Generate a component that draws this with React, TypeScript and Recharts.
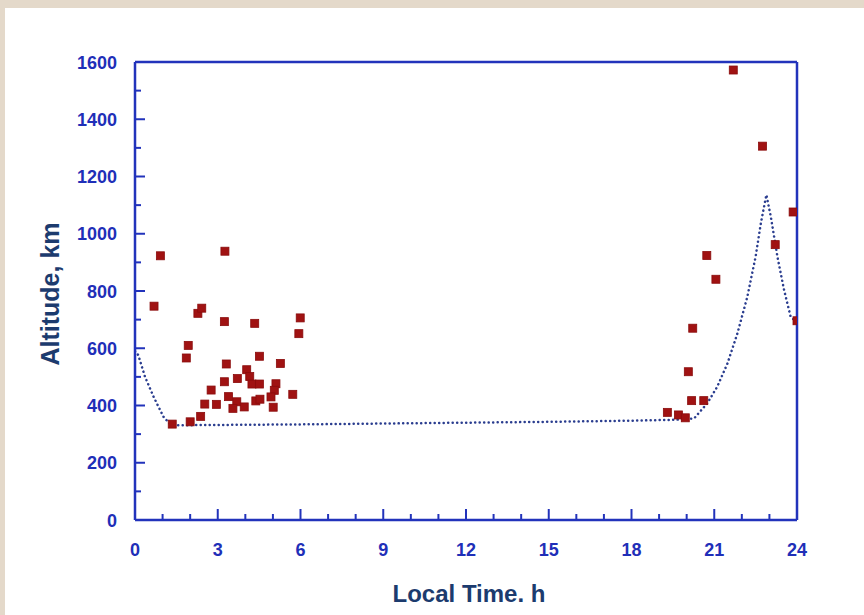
import { ComposedChart, Scatter, Line, XAxis, YAxis } from "recharts";

// observed altitudes (km) vs local time (h)
const nightX = [0.92, 3.26, 0.69, 2.28, 2.42, 3.24, 4.34, 5.99, 5.94, 1.93, 1.86, 4.51, 3.31, 5.27, 4.05, 3.71, 4.16, 3.24, 4.24, 4.51, 5.11, 5.05, 2.76, 3.39, 3.69, 4.93, 5.72, 4.38, 4.53, 2.53, 2.95, 3.55, 3.96, 5.01, 2.38, 1.35, 2.0];
const nightY = [923, 939, 747, 722, 740, 693, 687, 706, 651, 610, 566, 572, 545, 547, 525, 494, 501, 483, 475, 475, 476, 453, 454, 431, 413, 430, 439, 416, 422, 405, 404, 390, 395, 394, 362, 335, 343];
const eveningX = [21.69, 22.75, 23.86, 23.21, 20.73, 21.06, 20.22, 24.0, 20.06, 20.18, 20.62, 19.3, 19.7, 19.95];
const eveningY = [1572, 1306, 1076, 962, 924, 841, 670, 696, 518, 417, 417, 376, 367, 357];

// model curve
const curveX = [0, 0.12, 0.36, 0.67, 1.03, 1.27, 1.5, 3, 6, 9, 12, 15, 18, 19.5, 20, 20.27, 20.75, 21.11, 21.48, 21.84, 22.2, 22.5, 22.69, 22.89, 23.05, 23.29, 23.53, 23.77, 24];
const curveY = [590, 576, 501, 431, 361, 335, 331, 332, 334, 337, 340, 343, 347, 350, 352, 355, 408, 466, 547, 652, 780, 920, 1037, 1136, 1060, 920, 804, 710, 690];

const xTicks = [0, 1, 2, 3, 4, 5, 6, 7, 8, 9, 10, 11, 12, 13, 14, 15, 16, 17, 18, 19, 20, 21, 22, 23, 24];
const yTicks = [0, 100, 200, 300, 400, 500, 600, 700, 800, 900, 1000, 1100, 1200, 1300, 1400, 1500, 1600];

const points = [
  ...nightX.map((x, i) => ({ x, y: nightY[i] })),
  ...eveningX.map((x, i) => ({ x, y: eveningY[i] })),
];
const curve = curveX.map((x, i) => ({ x, y: curveY[i] }));

const AXIS = "#2233bb";
const LABEL = "#1f2fb8";
const TITLE = "#1c3b6e";
const FONT = "'Liberation Sans', Arial, sans-serif";

function BottomTick({ x, y, payload }: any) {
  const major = payload.value % 3 === 0;
  return (
    <g>
      <line x1={x} x2={x} y1={y} y2={y - (major ? 11 : 6)} stroke={AXIS} strokeWidth={2} />
      {major && (
        <text x={x} y={y + 36} textAnchor="middle" fill={LABEL} fontSize={18} fontWeight="bold" fontFamily={FONT}>
          {payload.value}
        </text>
      )}
    </g>
  );
}

function TopTick({ x, y, payload }: any) {
  const major = payload.value % 3 === 0;
  return <line x1={x} x2={x} y1={y} y2={y + (major ? 10 : 6)} stroke={AXIS} strokeWidth={2} />;
}

function LeftTick({ x, y, payload }: any) {
  const major = payload.value % 200 === 0;
  return (
    <g>
      <line x1={x} x2={x + (major ? 10 : 6)} y1={y} y2={y} stroke={AXIS} strokeWidth={2} />
      {major && (
        <text x={x - 18} y={y + 6.5} textAnchor="end" fill={LABEL} fontSize={18} fontWeight="bold" fontFamily={FONT}>
          {payload.value}
        </text>
      )}
    </g>
  );
}

function RightTick({ x, y, payload }: any) {
  const major = payload.value % 200 === 0;
  return <line x1={x} x2={x - (major ? 10 : 6)} y1={y} y2={y} stroke={AXIS} strokeWidth={2} />;
}

function Square({ cx, cy }: any) {
  return <rect x={cx - 4} y={cy - 4} width={8} height={8} fill="#a01212" stroke="#8a0c0c" strokeWidth={0.8} />;
}

export default function App() {
  return (
    <div style={{ position: "absolute", left: 0, top: 0, width: 864, height: 615, background: "#e4d9ca", overflow: "hidden" }}>
      <div style={{ position: "absolute", left: 5, top: 8, right: 0, bottom: 0, background: "#ffffff" }} />
      <div style={{ position: "absolute", left: 0, top: 0 }}>
        <ComposedChart width={864} height={615} margin={{ top: 61, right: 66, bottom: 65, left: 75 }}>
          <XAxis
            dataKey="x"
            type="number"
            domain={[0, 24]}
            ticks={xTicks}
            interval={0}
            allowDataOverflow
            axisLine={{ stroke: AXIS, strokeWidth: 2.5 }}
            tickLine={false}
            tickSize={0}
            tickMargin={0}
            tick={<BottomTick />}
            height={30}
          />
          <XAxis
            xAxisId="top"
            orientation="top"
            type="number"
            domain={[0, 24]}
            ticks={xTicks}
            interval={0}
            axisLine={{ stroke: AXIS, strokeWidth: 2.5 }}
            tickLine={false}
            tickSize={0}
            tickMargin={0}
            tick={<TopTick />}
            height={1}
          />
          <YAxis
            dataKey="y"
            type="number"
            domain={[0, 1600]}
            ticks={yTicks}
            interval={0}
            allowDataOverflow
            axisLine={{ stroke: AXIS, strokeWidth: 2.5 }}
            tickLine={false}
            tickSize={0}
            tickMargin={0}
            tick={<LeftTick />}
            width={60}
          />
          <YAxis
            yAxisId="right"
            orientation="right"
            type="number"
            domain={[0, 1600]}
            ticks={yTicks}
            interval={0}
            axisLine={{ stroke: AXIS, strokeWidth: 2.5 }}
            tickLine={false}
            tickSize={0}
            tickMargin={0}
            tick={<RightTick />}
            width={1}
          />
          <Line
            data={curve}
            dataKey="y"
            type="linear"
            stroke="#2a3d8f"
            strokeWidth={2.5}
            strokeDasharray="0.1 4.4"
            strokeLinecap="round"
            dot={false}
            activeDot={false}
            isAnimationActive={false}
          />
          <Scatter data={points} dataKey="y" shape={<Square />} isAnimationActive={false} />
        </ComposedChart>
      </div>
      <div
        style={{
          position: "absolute",
          left: 469,
          top: 581,
          transform: "translateX(-50%)",
          whiteSpace: "nowrap",
          fontFamily: FONT,
          fontWeight: "bold",
          fontSize: 24,
          lineHeight: "26px",
          color: TITLE,
        }}
      >
        Local Time. h
      </div>
      <div
        style={{
          position: "absolute",
          left: 50,
          top: 294,
          transform: "translate(-50%, -50%) rotate(-90deg)",
          whiteSpace: "nowrap",
          fontFamily: FONT,
          fontWeight: "bold",
          fontSize: 25,
          lineHeight: "26px",
          color: TITLE,
        }}
      >
        Altitude, km
      </div>
    </div>
  );
}
